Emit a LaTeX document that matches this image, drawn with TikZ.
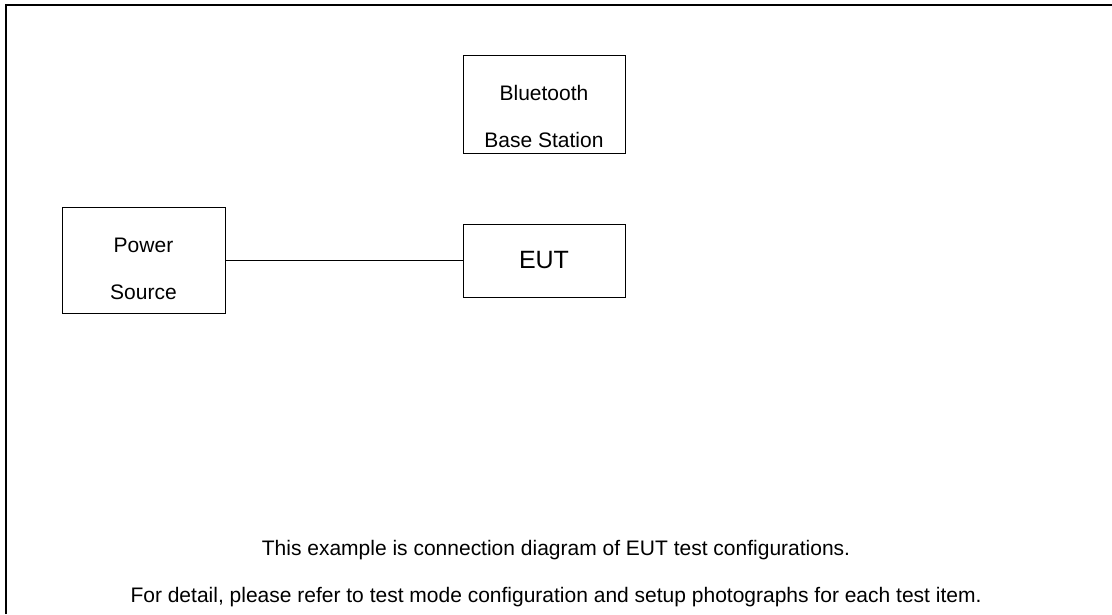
\documentclass[tikz,border=0pt]{standalone}
\usepackage{fontspec}
\setmainfont{Liberation Sans}

\begin{document}
\begin{tikzpicture}[x=1pt, y=-1pt,
                    every node/.style={black, font=\fontsize{21}{47}\selectfont},
                    unitbox/.style={draw, line width=1pt, inner sep=0pt},
                    unittext/.style={align=center, inner sep=0pt}]

  %% fixed frame of the picture
  \useasboundingbox (0,0) rectangle (1112,614);

  %% outer border, only top and left edge
  \draw[line width=2pt] (6,614) -- (6,5) -- (1112,5);

  %% the three units
  \node[unitbox, minimum width=162pt, minimum height=98pt] (bts) at (544,104) {};
  \node[unittext] (btstext) at ([yshift=-12.5pt]bts.center) {Bluetooth\\Base Station};

  \node[unitbox, minimum width=163pt, minimum height=106pt] (power) at (143.5,260.5) {};
  \node[unittext] (powertext) at ([yshift=-8.5pt]power.center) {Power\\Source};

  \node[unitbox, minimum width=162pt, minimum height=73pt,
        font=\fontsize{25}{30}\selectfont] (eut) at (544,260.5) {EUT};

  %% power cable
  \draw[line width=1.5pt] (power.east) -- (eut.west);

  %% notes
  \node (note1) at (556,550) {This example is connection diagram of EUT test configurations.};
  \node (note2) at (556,597) {For detail, please refer to test mode configuration and setup photographs for each test item.};

\end{tikzpicture}
\end{document}
